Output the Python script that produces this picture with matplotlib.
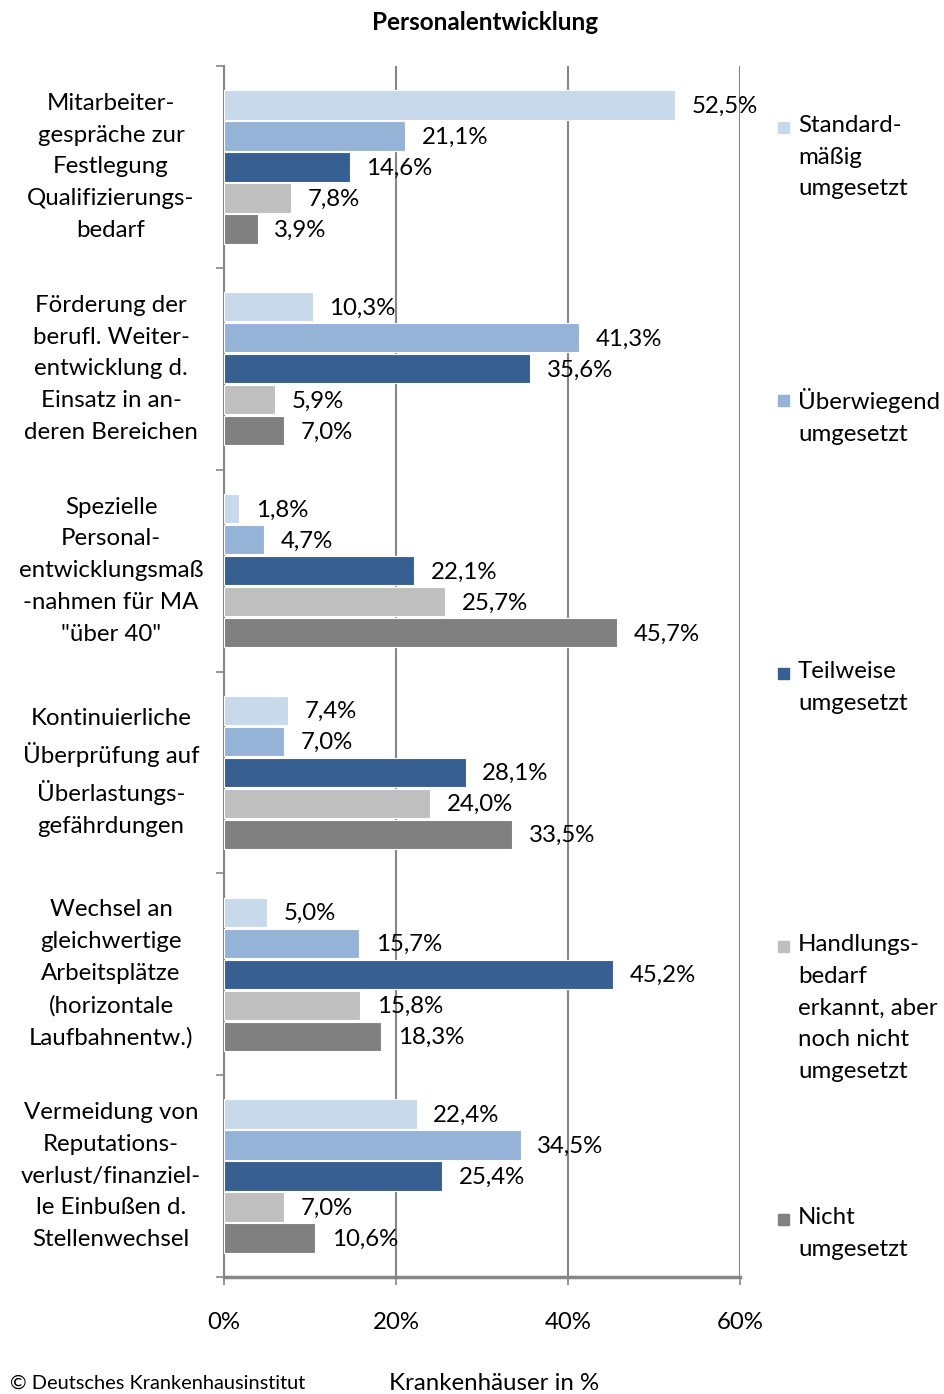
import numpy as np
import matplotlib
matplotlib.use("Agg")
import matplotlib.pyplot as plt
import matplotlib.transforms as mtransforms
from matplotlib.patches import Rectangle

plt.rcParams['font.family'] = ['Lato', 'DejaVu Sans']

categories = [
    "Mitarbeiter-\ngespräche zur\nFestlegung\nQualifizierungs-\nbedarf",
    "Förderung der\nberufl. Weiter-\nentwicklung d.\nEinsatz in an-\nderen Bereichen",
    "Spezielle\nPersonal-\nentwicklungsmaß\n-nahmen für MA\n\"über 40\"",
    "Kontinuierliche\nÜberprüfung auf\nÜberlastungs-\ngefährdungen",
    "Wechsel an\ngleichwertige\nArbeitsplätze\n(horizontale\nLaufbahnentw.)",
    "Vermeidung von\nReputations-\nverlust/finanziel-\nle Einbußen d.\nStellenwechsel",
]
series_names = [
    "Standard-\nmäßig\numgesetzt",
    "Überwiegend\numgesetzt",
    "Teilweise\numgesetzt",
    "Handlungs-\nbedarf\nerkannt, aber\nnoch nicht\numgesetzt",
    "Nicht\numgesetzt",
]
standard = [52.5, 10.3, 1.8, 7.4, 5.0, 22.4]
ueberwiegend = [21.1, 41.3, 4.7, 7.0, 15.7, 34.5]
teilweise = [14.6, 35.6, 22.1, 28.1, 45.2, 25.4]
handlungsbedarf = [7.8, 5.9, 25.7, 24.0, 15.8, 7.0]
nicht = [3.9, 7.0, 45.7, 33.5, 18.3, 10.6]
x_ticks = [0, 20, 40, 60]

series = [standard, ueberwiegend, teilweise, handlungsbedarf, nicht]
colors = ["#C9D9EC", "#95B3D7", "#375F91", "#BFBFBF", "#808080"]

W, H = 945, 1394
fig = plt.figure(figsize=(W / 100, H / 100), dpi=100)
ax = fig.add_axes([224 / W, 1 - 1277 / H, (740 - 224) / W, (1277 - 66) / H])

fs = 17.3
ls = 1.63
stride = 0.1535
height = 0.145
pos = np.arange(len(categories))
for j, (vals, col) in enumerate(zip(series, colors)):
    y = pos + (j - 2) * stride
    bars = ax.barh(y, vals, height=height, color=col, edgecolor="white",
                   linewidth=0.8, zorder=3)
    for b, v in zip(bars, vals):
        ax.annotate(f"{v:.1f}%".replace(".", ","),
                    (b.get_width(), b.get_y() + b.get_height() / 2),
                    xytext=(12, -1), textcoords="offset points",
                    ha="left", va="center", fontsize=fs, zorder=5)

ax.set_xlim(0, 60)
ax.set_ylim(len(categories) - 0.5, -0.5)
ax.set_xticks(x_ticks)
ax.set_xticklabels([f"{t}%" for t in x_ticks], fontsize=fs)
ax.tick_params(axis="x", length=6, width=1.2, color="#868686", pad=19)
ax.set_yticks(np.arange(-0.5, len(categories)), labels=[])
ax.tick_params(axis="y", length=6, width=1.2, color="#868686")
ax.xaxis.grid(True, color="#868686", linewidth=1.5, zorder=0)
for s in ["top", "right"]:
    ax.spines[s].set_visible(False)
ax.spines["left"].set_color("#868686")
ax.spines["left"].set_linewidth(1.5)
ax.spines["bottom"].set_color("#868686")
ax.spines["bottom"].set_linewidth(2.5)

# category labels
trans = mtransforms.blended_transform_factory(fig.transFigure, ax.transData)
for p, c in zip(pos, categories):
    ax.text(111 / W, p, c, transform=trans, ha="center", va="center",
            fontsize=fs, linespacing=ls)

# legend
leg_y = [127, 400, 673, 946, 1219]
for name, col, yy in zip(series_names, colors, leg_y):
    fig.add_artist(Rectangle((778 / W, 1 - (yy + 6) / H), 11 / W, 11 / H,
                             transform=fig.transFigure, color=col))
    fig.text(798 / W, 1 - (yy - 12) / H, name, ha="left", va="top",
             fontsize=fs, linespacing=ls)

fig.text(485 / W, 1 - 22 / H, "Personalentwicklung", ha="center",
         va="center", fontsize=17.5, fontweight="bold")
fig.text(494 / W, 1 - 1384 / H, "Krankenhäuser in %", ha="center",
         va="center", fontsize=fs)
fig.text(10 / W, 1 - 1383 / H, "© Deutsches Krankenhausinstitut",
         ha="left", va="center", fontsize=14.4)

fig.savefig("out.png", dpi=100)
